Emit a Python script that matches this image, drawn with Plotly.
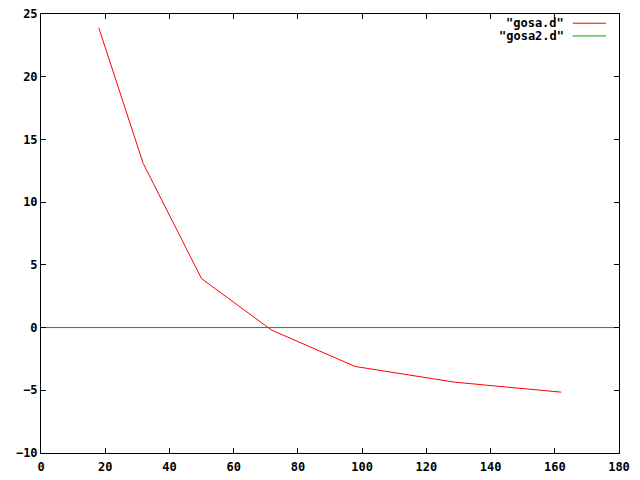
import plotly.graph_objects as go

# data
gosa_x = [18, 31.8, 50, 71.8, 97.8, 128.7, 162]
gosa_y = [23.9, 13.1, 3.9, -0.2, -3.1, -4.35, -5.15]
gosa2_x = [0, 180]
gosa2_y = [0, 0]
names = ['"gosa.d"', '"gosa2.d"']
colors = ["#ff0000", "#00a000"]
x_ticks = [0, 20, 40, 60, 80, 100, 120, 140, 160, 180]
y_ticks = [-10, -5, 0, 5, 10, 15, 20, 25]

FONT = dict(family="DejaVu Sans Mono", size=12, color="black", weight="bold")

fig = go.Figure()
fig.add_trace(go.Scatter(x=gosa_x, y=gosa_y, mode="lines", name=names[0],
                         line=dict(color=colors[0], width=1)))
fig.add_trace(go.Scatter(x=gosa2_x, y=gosa2_y, mode="lines", name=names[1],
                         line=dict(color=colors[1], width=1)))

axis_common = dict(showgrid=False, zeroline=False, showline=True, linecolor="black",
                   linewidth=1, mirror="allticks", ticks="inside", ticklen=5,
                   tickcolor="black", tickfont=FONT, ticklabeloverflow="allow",
                   automargin=False)
fig.update_xaxes(range=[0, 180], tickvals=x_ticks, ticklabelstandoff=3, **axis_common)
fig.update_yaxes(range=[-10, 25], tickvals=y_ticks, **axis_common)

# gnuplot-style legend (text left of sample line)
rows_y = [0.979, 0.950]
for name, col, ry in zip(names, colors, rows_y):
    fig.add_annotation(xref="paper", yref="paper", x=0.9075, y=ry, text=name,
                       showarrow=False, xanchor="right", yanchor="middle", font=FONT)
    fig.add_shape(type="line", xref="paper", yref="paper", x0=0.920, x1=0.9775,
                  y0=ry, y1=ry, line=dict(color=col, width=1))

fig.update_layout(width=640, height=480, showlegend=False,
                  margin=dict(l=33, r=29, t=6, b=35, autoexpand=False),
                  plot_bgcolor="white", paper_bgcolor="white", font=FONT)
fig.write_html("out.html")
